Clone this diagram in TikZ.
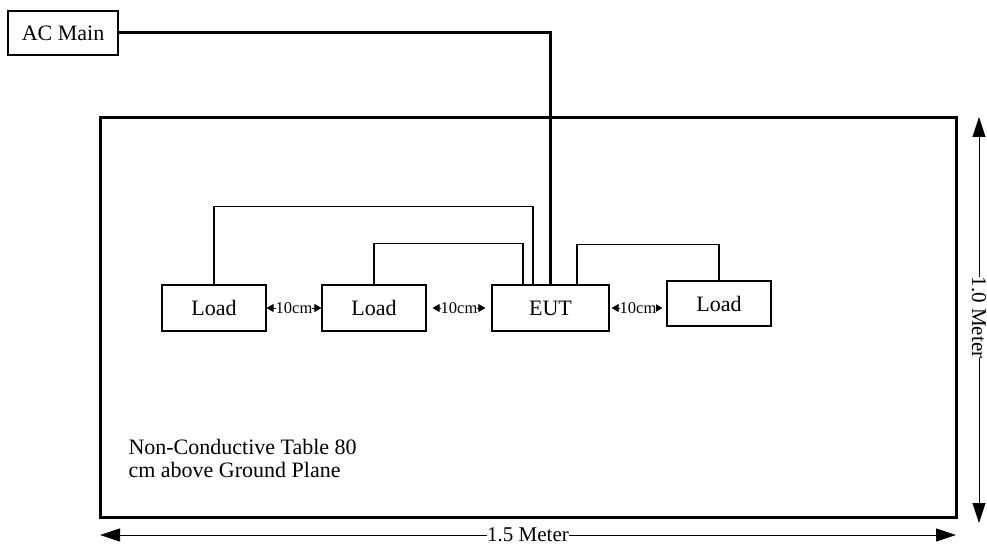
\documentclass[tikz,border=0pt]{standalone}
\usepackage{fontspec}
\setmainfont{Liberation Serif}
\usepackage{tikz}
\usetikzlibrary{positioning, arrows.meta, arrows}

\begin{document}
\begin{tikzpicture}[x=1pt,y=-1pt,
    box/.style={draw,line width=1.2pt,minimum width=104pt,minimum height=46pt,inner sep=0pt,font=\fontsize{22}{25}\selectfont},
    wire/.style={line width=1.2pt},
    mains/.style={line width=3pt},
    gap/.style={line width=0.8pt,{Triangle[length=7pt,width=8pt]}-{Triangle[length=7pt,width=8pt]}},
    gaplabel/.style={fill=white,inner sep=0pt,font=\fontsize{16.5}{18}\selectfont},
    dim/.style={line width=1pt,{Triangle[length=20pt,width=13pt]}-{Triangle[length=20pt,width=13pt]}},
    dimlabel/.style={fill=white,inner sep=0pt,font=\fontsize{21}{24}\selectfont}]
    \useasboundingbox (0,0) rectangle (987,548);

    \node[box,minimum width=110pt,minimum height=44pt] (ac) at (63,33) {AC Main};
    \node[draw,line width=3pt,minimum width=856pt,minimum height=399pt,outer sep=0pt] (table) at (528,317.5) {};

    \node[box] (load1) at (214,308) {Load};
    \node[box] (load2) at (374,308) {Load};
    \node[box,minimum width=117pt] (eut) at (550.5,308) {EUT};
    \node[box,minimum height=45pt] (load3) at (719,303.5) {Load};

    \node[anchor=west,align=left,font=\fontsize{22}{23}\selectfont] (note) at (125,458)
        {Non-Conductive Table 80\\cm above Ground Plane};

    % supply and cables
    \draw[mains] (ac.east) -| (eut.north);
    \draw[wire] (load1.north) -- ++(0,-78) -| ([xshift=-17.5pt]eut.north);
    \draw[wire] (load2.north) -- ++(0,-41) -| ([xshift=-27.5pt]eut.north);
    \draw[wire] ([xshift=26.5pt]eut.north) -- ++(0,-40) -| (load3.north);

    % spacing
    \draw[gap] (load1.east) -- node[gaplabel] {10cm} (load2.west);
    \draw[gap,shorten <=6pt,shorten >=6pt] (load2.east) -- node[gaplabel] {10cm} (eut.west);
    \draw[gap,shorten <=2pt,shorten >=4pt] (eut.east) -- node[gaplabel] {10cm} (load3.west |- eut.west);

    % table size
    \draw[dim,shorten <=-1pt,shorten >=-6pt] ([xshift=23pt]table.north east) -- node[dimlabel,rotate=-90] {1.0 Meter} ([xshift=23pt]table.south east);
    \draw[dim] ([yshift=-18pt]table.south west) -- node[dimlabel] {1.5 Meter} ([yshift=-18pt]table.south east);
\end{tikzpicture}
\end{document}
